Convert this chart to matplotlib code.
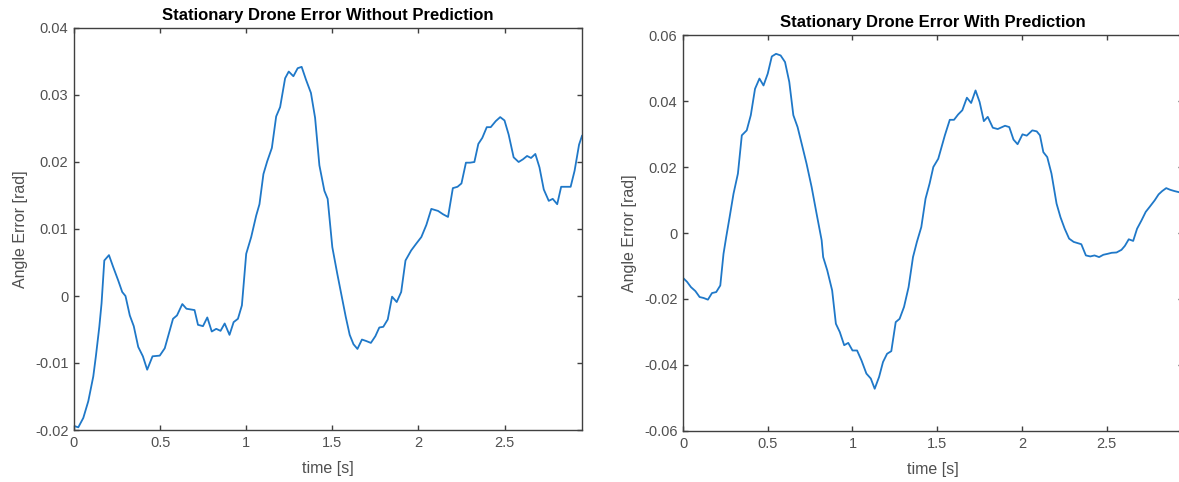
import matplotlib.pyplot as plt
from matplotlib.ticker import FormatStrFormatter

plt.rcParams['font.family'] = ['Liberation Sans', 'DejaVu Sans']

# error without prediction
t_without = [0, 0.025, 0.054, 0.083, 0.112, 0.127, 0.147, 0.16, 0.176, 0.203,
             0.228, 0.257, 0.28, 0.299, 0.324, 0.347, 0.373, 0.40, 0.425, 0.456,
             0.498, 0.527, 0.575, 0.598, 0.629, 0.653, 0.70, 0.72, 0.749, 0.774,
             0.80, 0.826, 0.851, 0.875, 0.903, 0.927, 0.952, 0.975, 1.0, 1.029,
             1.058, 1.077, 1.10, 1.122, 1.149, 1.174, 1.197, 1.226, 1.247, 1.274,
             1.299, 1.322, 1.347, 1.376, 1.40, 1.425, 1.454, 1.473, 1.5, 1.529,
             1.555, 1.578, 1.601, 1.623, 1.646, 1.672, 1.695, 1.724, 1.75, 1.773,
             1.796, 1.822, 1.847, 1.874, 1.90, 1.925, 1.958, 1.987, 2.017, 2.046,
             2.075, 2.114, 2.143, 2.172, 2.20, 2.227, 2.25, 2.276, 2.30, 2.325,
             2.348, 2.371, 2.397, 2.42, 2.449, 2.475, 2.50, 2.524, 2.553, 2.582,
             2.607, 2.631, 2.654, 2.679, 2.703, 2.728, 2.757, 2.78, 2.806, 2.829,
             2.855, 2.884, 2.907, 2.933, 2.95]
err_without = [-0.0194, -0.0196, -0.0182, -0.0157, -0.012, -0.009, -0.0046, -0.0011, 0.0053, 0.0061,
               0.0043, 0.0023, 0.0006, 0.0, -0.0029, -0.0045, -0.0076, -0.009, -0.011, -0.009,
               -0.0089, -0.0078, -0.0034, -0.0029, -0.0012, -0.0019, -0.0021, -0.0043, -0.0045, -0.0032,
               -0.0053, -0.0049, -0.0052, -0.0041, -0.0058, -0.0039, -0.0034, -0.0014, 0.0063, 0.0088,
               0.012, 0.0137, 0.0182, 0.0201, 0.0221, 0.0268, 0.0282, 0.0325, 0.0335, 0.0328,
               0.034, 0.0342, 0.0323, 0.0303, 0.0266, 0.0195, 0.0157, 0.0145, 0.0073, 0.0033,
               -0.0001, -0.0031, -0.0058, -0.0072, -0.0079, -0.0065, -0.0067, -0.007, -0.006, -0.0047,
               -0.0046, -0.0035, -0.0001, -0.0009, 0.0006, 0.0053, 0.0068, 0.0078, 0.0088, 0.0106,
               0.013, 0.0127, 0.0122, 0.0118, 0.0161, 0.0163, 0.0168, 0.0199, 0.0199, 0.02,
               0.0227, 0.0236, 0.0252, 0.0252, 0.0261, 0.0267, 0.0262, 0.0241, 0.0207, 0.02,
               0.0204, 0.0209, 0.0206, 0.0212, 0.0192, 0.0159, 0.0142, 0.0145, 0.0137, 0.0163,
               0.0163, 0.0163, 0.0187, 0.0226, 0.0239]

# error with prediction
t_with = [0, 0.024, 0.047, 0.073, 0.098, 0.122, 0.147, 0.171, 0.196, 0.22,
          0.239, 0.255, 0.275, 0.298, 0.324, 0.347, 0.376, 0.40, 0.425, 0.451,
          0.475, 0.50, 0.524, 0.549, 0.576, 0.602, 0.627, 0.651, 0.676, 0.70,
          0.729, 0.759, 0.788, 0.818, 0.827, 0.851, 0.88, 0.902, 0.925, 0.951,
          0.975, 1.0, 1.027, 1.053, 1.082, 1.108, 1.131, 1.157, 1.18, 1.204,
          1.229, 1.255, 1.278, 1.304, 1.331, 1.357, 1.38, 1.406, 1.431, 1.455,
          1.477, 1.506, 1.545, 1.574, 1.599, 1.623, 1.648, 1.675, 1.70, 1.726,
          1.75, 1.775, 1.798, 1.828, 1.857, 1.90, 1.925, 1.95, 1.974, 2.003,
          2.028, 2.061, 2.087, 2.106, 2.126, 2.149, 2.174, 2.204, 2.227, 2.252,
          2.278, 2.305, 2.35, 2.377, 2.403, 2.428, 2.455, 2.48, 2.506, 2.529,
          2.558, 2.587, 2.607, 2.63, 2.656, 2.679, 2.705, 2.73, 2.753, 2.783,
          2.806, 2.827, 2.851, 2.874, 2.90, 2.94]
err_with = [-0.0136, -0.0148, -0.0164, -0.0176, -0.0194, -0.0197, -0.0202, -0.0182, -0.0179, -0.0159,
            -0.0063, -0.0012, 0.0048, 0.0119, 0.018, 0.0296, 0.0311, 0.0357, 0.0437, 0.0468,
            0.0447, 0.0483, 0.0535, 0.0543, 0.0538, 0.0518, 0.0458, 0.0357, 0.0321, 0.0271,
            0.021, 0.0139, 0.0059, -0.0022, -0.0073, -0.0113, -0.0174, -0.0275, -0.03, -0.034,
            -0.0333, -0.0356, -0.0356, -0.0386, -0.0426, -0.0441, -0.0472, -0.0436, -0.0391, -0.0366,
            -0.0358, -0.027, -0.026, -0.0224, -0.0164, -0.0073, -0.0027, 0.0018, 0.0104, 0.015,
            0.02, 0.0225, 0.0296, 0.0343, 0.0343, 0.0359, 0.0372, 0.041, 0.0394, 0.0432,
            0.0397, 0.0339, 0.0352, 0.0319, 0.0315, 0.0325, 0.0321, 0.0283, 0.0269, 0.0299,
            0.0295, 0.0311, 0.0308, 0.0296, 0.0245, 0.023, 0.018, 0.0089, 0.0048, 0.0013,
            -0.0017, -0.0027, -0.0034, -0.0068, -0.0071, -0.0068, -0.0073, -0.0066, -0.0063, -0.006,
            -0.0059, -0.0051, -0.0039, -0.0019, -0.0024, 0.0013, 0.0038, 0.0064, 0.0079, 0.0099,
            0.0117, 0.0127, 0.0136, 0.0131, 0.0127, 0.0122]

fig = plt.figure(figsize=(11.79, 4.82), dpi=100)
# right panel runs slightly past the figure edge, as in the original screenshot
ax1 = fig.add_axes([74 / 1179, 52 / 482, 508 / 1179, 402 / 482])
ax2 = fig.add_axes([683 / 1179, 51 / 482, 500 / 1179, 396 / 482])

spine_col = '#404040'
text_col = '#505050'
for ax, t, e, title, ylim, yticks in [
        (ax1, t_without, err_without, 'Stationary Drone Error Without Prediction',
         (-0.02, 0.04), [-0.02, -0.01, 0, 0.01, 0.02, 0.03, 0.04]),
        (ax2, t_with, err_with, 'Stationary Drone Error With Prediction',
         (-0.06, 0.06), [-0.06, -0.04, -0.02, 0, 0.02, 0.04, 0.06])]:
    ax.plot(t, e, color='#1f78c8', lw=1.3)
    ax.set_xlim(0, 2.95)
    ax.set_ylim(*ylim)
    ax.set_yticks(yticks)
    ax.set_xticks([0, 0.5, 1, 1.5, 2, 2.5])
    ax.xaxis.set_major_formatter(FormatStrFormatter('%g'))
    ax.yaxis.set_major_formatter(FormatStrFormatter('%g'))
    ax.tick_params(direction='in', top=True, right=True, length=3.5, width=1.0,
                   colors=spine_col, labelsize=10.5, labelcolor=text_col, pad=4)
    for s in ax.spines.values():
        s.set_color(spine_col)
        s.set_linewidth(1.0)
    ax.set_title(title, fontsize=12, fontweight='bold', pad=6)
    ax.set_xlabel('time [s]', fontsize=11.5, color=text_col, labelpad=8)
    ax.set_ylabel('Angle Error [rad]', fontsize=11.5, color=text_col, labelpad=5)

fig.savefig('out.png', dpi=100)
